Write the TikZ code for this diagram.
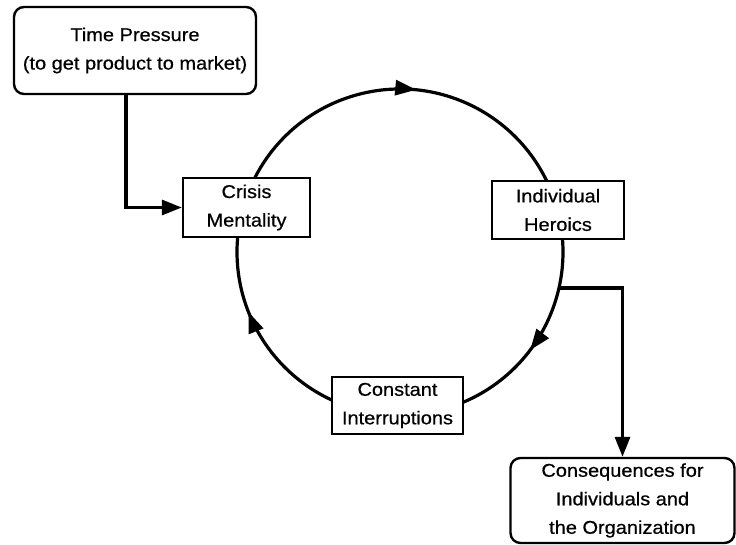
\documentclass[tikz,border=0pt]{standalone}
\usepackage{fontspec}
\setmainfont[FakeStretch=1.08,FakeBold=0.6]{Liberation Sans}
\usetikzlibrary{arrows.meta,decorations.markings,calc}
\begin{document}
\begin{tikzpicture}[x=1pt,y=-1pt,
  box/.style={draw,line width=2.4pt,fill=white,align=center,inner sep=0pt,font=\fontsize{18.5}{28.5}\selectfont},
  rbox/.style={box,rounded corners=10pt},
  link/.style={line width=3.2pt},
  tip/.style={-{Triangle[length=20pt,width=15pt]}},
  mid/.style={postaction={decorate},decoration={markings,mark=at position #1 with {\arrow{Triangle[length=21pt,width=15pt]}}}}
]
\fill[white] (0,0) rectangle (736,545);
\useasboundingbox (0,0) rectangle (736,545);

% cycle circle
\coordinate (c) at (400,252);
\coordinate (a1) at ($(c)+(207.04:163)$);
\coordinate (b1) at ($(c)+(355.4:163)$);
\coordinate (d1) at ($(c)+(114.7:163)$);
\coordinate (h) at ($(c)+(12.75:163)$);
\draw[link,mid=0.54] (a1) arc[start angle=207.04,end angle=334.22,radius=163];
\draw[link,mid=0.58] (b1) arc[start angle=355.4,end angle=427.2,radius=163];
\draw[link,mid=0.62] (d1) arc[start angle=114.7,end angle=185.3,radius=163];

% nodes
\node[rbox,minimum width=242pt,minimum height=87pt] (tp) at (135,50.5) {Time Pressure\\(to get product to market)};
\node[box,minimum width=127pt,minimum height=59pt] (crisis) at (246.5,207.5) {Crisis\\Mentality};
\node[box,minimum width=132pt,minimum height=58pt] (heroics) at (558,210) {Individual\\Heroics};
\node[box,minimum width=131pt,minimum height=57pt] (interr) at (397.5,405.5) {Constant\\Interruptions};
\node[rbox,minimum width=224pt,minimum height=85pt] (cons) at (622.5,500.5) {Consequences for\\Individuals and\\the Organization};

% connectors
\draw[link,tip] ([xshift=-9pt]tp.south) |- (crisis.west);
\draw[link,tip] (h) -| (cons.north);
\end{tikzpicture}
\end{document}
